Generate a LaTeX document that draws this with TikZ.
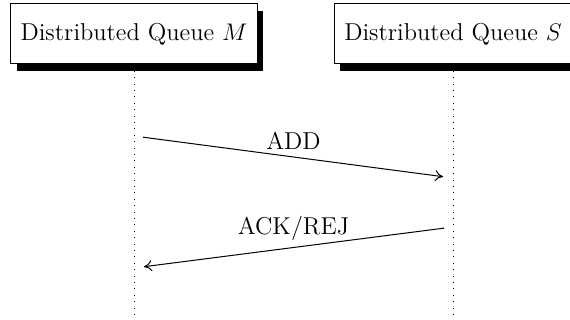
\documentclass[tikz,border=0pt]{standalone}
\usetikzlibrary{shadows,arrows.meta}
\tikzset{
every picture/.style={
line width=0.5pt
},
queue/.style={draw, fill=white, minimum height=30pt, inner xsep=5pt,
  drop shadow={shadow xshift=3pt, shadow yshift=-3.5pt, fill=black, opacity=1}},
lifeline/.style={dash pattern=on 0.5pt off 2.7pt, line width=0.4pt},
msg/.style={-{To[length=4pt, width=5.5pt]}, shorten <=4.5pt, shorten >=5pt}
}

\begin{document}
\begin{tikzpicture}[x=0.5pt, y=-0.5pt, font=\fontsize{12.2}{14}\selectfont]
\useasboundingbox (0,0) rectangle (570,320);

% the two queues, each with its lifeline
\foreach \x/\n/\q in {134/m/M, 453/s/S}{
  \node[queue] (\n) at (\x,34) {Distributed Queue $\q$};
  \coordinate (\n end) at (\x,320);
  \draw[lifeline] (\n) -- (\n end);
}

% messages
\coordinate (m1) at (134,136);
\coordinate (s1) at (453,178);
\coordinate (s2) at (453,227);
\coordinate (m2) at (134,268);

\draw[msg] (m1) -- node[midway, above] (add) {ADD} (s1);
\draw[msg] (s2) -- node[midway, above] (ack) {ACK/REJ} (m2);
\end{tikzpicture}
\end{document}
